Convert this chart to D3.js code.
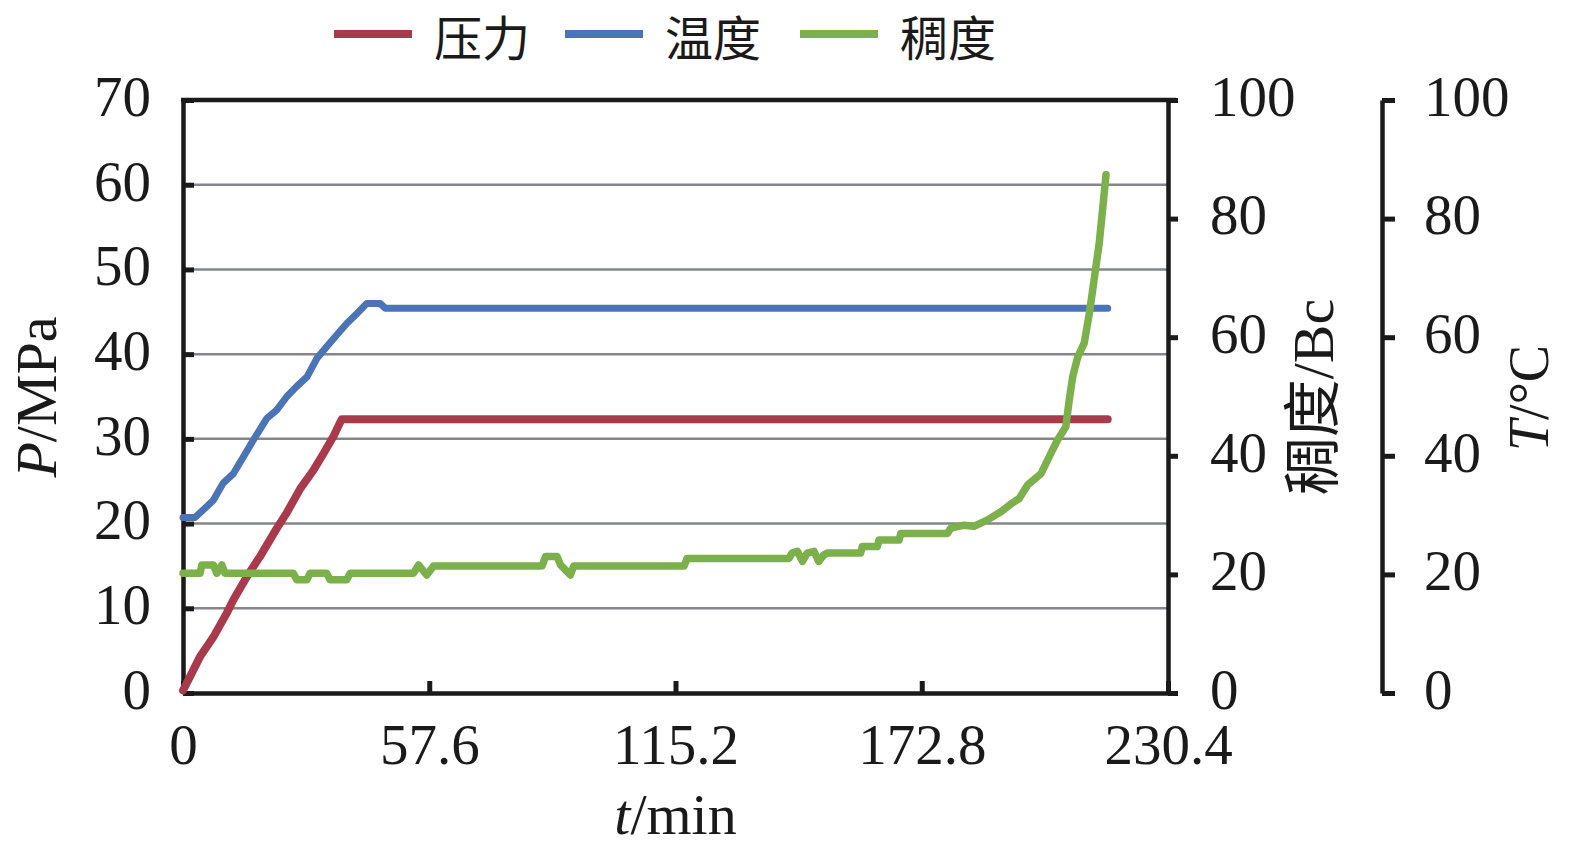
<!DOCTYPE html>
<html>
<head>
<meta charset="utf-8">
<script src="https://cdn.jsdelivr.net/npm/d3@7"></script>
<style>
  html, body { margin: 0; padding: 0; background: #ffffff; }
  svg { display: block; }
</style>
</head>
<body>
<svg id="chart" width="1575" height="853"></svg>
<script>
// ---------------- data ----------------
const timeTicks = [0, 57.6, 115.2, 172.8, 230.4];
const pressureTicks = [0, 10, 20, 30, 40, 50, 60, 70];
const gridTicks = [10, 20, 30, 40, 50, 60];
const consistencyTicks = [0, 20, 40, 60, 80, 100];
const temperatureTicks = [0, 20, 40, 60, 80, 100];

const seriesNames = ["压力", "温度", "稠度"];
const seriesColors = ["#a93a4b", "#4a74b6", "#7cb04a"];

// pressure (MPa) vs time (min)
const timeP = [0, 4.0, 7.1, 10.2, 11.8, 14.9, 18.0, 21.9, 24.3, 27.4, 30.5, 32.9, 35.2, 37.1, 216.3];
const pressure = [0.3, 4.3, 6.6, 9.4, 11.0, 13.7, 16.1, 19.4, 21.3, 24.1, 26.3, 28.3, 30.3, 32.3, 32.3];

// temperature (°C) vs time (min)
const timeT = [0, 2.8, 4.75, 7.1, 9.4, 11.8, 14.1, 16.5, 19.6, 21.9, 24.3, 26.6, 29.0, 31.3, 33.6, 36.0, 38.3, 40.7, 43.0, 46.1, 47.3, 216.3];
const temperature = [29.6, 29.6, 30.9, 32.5, 35.4, 37.0, 39.8, 42.7, 46.3, 47.7, 50.0, 51.7, 53.3, 56.4, 58.4, 60.4, 62.3, 64.0, 65.7, 65.7, 64.9, 64.9];

// consistency (Bc) vs time (min)
const timeC = [0, 4.0, 4.4, 7.1, 7.9, 9.1, 9.8, 25.8, 26.6, 29.0, 29.7, 33.6, 34.4, 38.3, 39.1, 53.9, 55.1, 57.0, 58.6,
  84.0, 84.8, 87.5, 88.3, 90.6, 91.4, 117.2, 117.9, 141.7, 142.5, 143.7, 144.9, 146.0, 147.6, 148.7, 149.9, 150.7,
  158.5, 158.9, 162.4, 162.8, 167.5, 167.9, 178.8, 179.6, 182.7, 185.0, 188.2, 191.4, 193.7, 195.6, 197.6, 200.7,
  203.0, 204.6, 206.5, 207.3, 208.1, 209.3, 210.8, 212.0, 213.1, 214.3, 215.1, 215.9];
const consistency = [20.2, 20.2, 21.6, 21.6, 20.2, 21.6, 20.2, 20.2, 19.1, 19.1, 20.2, 20.2, 19.1, 19.1, 20.2, 20.2, 21.6, 19.9, 21.4,
  21.4, 23.0, 23.0, 21.6, 19.9, 21.4, 21.4, 22.7, 22.7, 23.6, 23.9, 22.2, 23.6, 23.9, 22.2, 23.3, 23.6,
  23.6, 24.7, 24.7, 25.8, 25.8, 26.9, 26.9, 27.8, 28.3, 28.1, 29.2, 30.6, 31.9, 32.8, 35.1, 37.0,
  40.4, 42.7, 44.9, 49.4, 53.3, 56.7, 59.0, 64.0, 69.6, 75.8, 81.5, 87.4];

// ---------------- layout ----------------
const L = 183, R = 1168, T = 100, B = 693;
const axisColor = "#1a1a1a";
const serif = "'Liberation Serif', 'Times New Roman', 'Noto Sans CJK SC', serif";
const fs = 57;

const svg = d3.select("#chart");

const x = d3.scaleLinear().domain([0, 230.4]).range([L, R]);
const yP = d3.scaleLinear().domain([0, 70]).range([B, T]);
const yC = d3.scaleLinear().domain([0, 100]).range([B, T]);
const yT = d3.scaleLinear().domain([0, 100]).range([B, T]);

// gridlines
svg.append("g").selectAll("line").data(gridTicks).join("line")
  .attr("x1", L).attr("x2", R)
  .attr("y1", d => yP(d)).attr("y2", d => yP(d))
  .attr("stroke", "#85868b").attr("stroke-width", 2.5);

// top border
svg.append("line").attr("x1", L - 2).attr("x2", R + 8).attr("y1", T).attr("y2", T)
  .attr("stroke", axisColor).attr("stroke-width", 4.5);

function styleAxis(g, dy) {
  g.select(".domain").attr("stroke", axisColor).attr("stroke-width", 4.5);
  g.selectAll(".tick line").attr("stroke", axisColor).attr("stroke-width", 5);
  g.selectAll(".tick text").attr("fill", axisColor)
    .style("font-family", serif).style("font-size", fs + "px");
  if (dy !== undefined) g.selectAll(".tick text").attr("dy", dy);
}

// left axis (pressure)
const gL = svg.append("g").attr("transform", `translate(${L},0)`)
  .call(d3.axisLeft(yP).tickValues(pressureTicks).tickSize(-11).tickSizeOuter(0).tickPadding(32).tickFormat(d3.format("d")));
styleAxis(gL, "0.27em");

// bottom axis (time)
const gB = svg.append("g").attr("transform", `translate(0,${B})`)
  .call(d3.axisBottom(x).tickValues(timeTicks).tickSize(-12).tickSizeOuter(0).tickPadding(31)
    .tickFormat(d => d === 0 ? "0" : d3.format(".1f")(d)));
styleAxis(gB);

// right axis 1 (consistency)
const gR1 = svg.append("g").attr("transform", `translate(${R},0)`)
  .call(d3.axisRight(yC).tickValues(consistencyTicks).tickSize(10).tickSizeOuter(0).tickPadding(32));
styleAxis(gR1, "0.27em");

// right axis 2 (temperature)
const gR2 = svg.append("g").attr("transform", `translate(1382,0)`)
  .call(d3.axisRight(yT).tickValues(temperatureTicks).tickSize(13).tickSizeOuter(0).tickPadding(29));
styleAxis(gR2, "0.27em");

// ---------------- lines ----------------
const lineGen = (xs, ys, yScale) => d3.line()
  .x((d, i) => x(xs[i])).y((d, i) => yScale(ys[i]))(ys);

svg.append("path").attr("d", lineGen(timeP, pressure, yP))
  .attr("fill", "none").attr("stroke", seriesColors[0]).attr("stroke-width", 8)
  .attr("stroke-linejoin", "round").attr("stroke-linecap", "round");
svg.append("path").attr("d", lineGen(timeT, temperature, yT))
  .attr("fill", "none").attr("stroke", seriesColors[1]).attr("stroke-width", 7)
  .attr("stroke-linejoin", "round").attr("stroke-linecap", "round");
svg.append("path").attr("d", lineGen(timeC, consistency, yC))
  .attr("fill", "none").attr("stroke", seriesColors[2]).attr("stroke-width", 7.5)
  .attr("stroke-linejoin", "round").attr("stroke-linecap", "round");

// ---------------- axis titles ----------------
const pT = svg.append("text")
  .attr("transform", `translate(56,397) rotate(-90)`)
  .attr("text-anchor", "middle")
  .style("font-family", serif).style("font-size", "58px").attr("fill", axisColor);
pT.append("tspan").style("font-style", "italic").text("P");
pT.append("tspan").text("/MPa");

const tT = svg.append("text")
  .attr("x", (L + R) / 2).attr("y", 834)
  .attr("text-anchor", "middle")
  .style("font-family", serif).style("font-size", "58px").attr("fill", axisColor);
tT.append("tspan").style("font-style", "italic").text("t");
tT.append("tspan").text("/min");

svg.append("text")
  .attr("transform", `translate(1333,397) rotate(-90)`)
  .attr("text-anchor", "middle")
  .style("font-family", serif).style("font-size", "58px").attr("fill", axisColor)
  .text("稠度/Bc");

const TT = svg.append("text")
  .attr("transform", `translate(1548,398) rotate(-90)`)
  .attr("text-anchor", "middle")
  .style("font-family", serif).style("font-size", "56px").attr("fill", axisColor);
TT.append("tspan").style("font-style", "italic").text("T");
TT.append("tspan").text("/°C");

// ---------------- legend ----------------
const legendSwatchX = [334, 565, 800];
const leg = svg.append("g").selectAll("g").data(seriesNames).join("g");
leg.append("line")
  .attr("x1", (d, i) => legendSwatchX[i]).attr("x2", (d, i) => legendSwatchX[i] + 78)
  .attr("y1", 34).attr("y2", 34)
  .attr("stroke", (d, i) => seriesColors[i]).attr("stroke-width", 8);
leg.append("text")
  .attr("x", (d, i) => legendSwatchX[i] + 100)
  .attr("y", 56)
  .style("font-family", "'Noto Sans CJK SC', sans-serif")
  .style("font-size", "48px").attr("fill", axisColor)
  .text(d => d);
</script>
</body>
</html>
